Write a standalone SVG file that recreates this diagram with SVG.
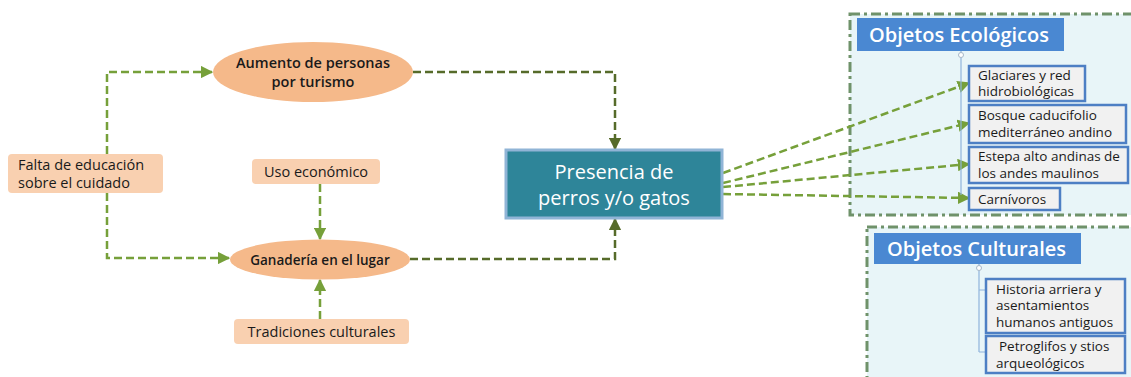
<svg xmlns="http://www.w3.org/2000/svg" width="1131" height="377" viewBox="0 0 1131 377">
<defs>
<style>
.t{font-family:"Open Sans","Liberation Sans",sans-serif;fill:#1a1a1a}
.b{font-weight:600}
.c{text-anchor:middle}
.ell{fill:#f5b98a}
.box{fill:#f9d0b0}
.g{fill:none;stroke:#76a03a;stroke-width:2.5;stroke-dasharray:8 4}
.d{fill:none;stroke:#566b2a;stroke-width:2.5;stroke-dasharray:8 4}
.grp{fill:#e8f5f8;stroke:#6f926a;stroke-width:3;stroke-dasharray:10 4 3 4}
.hdr{fill:#4a88d2}
.item{fill:#f1f1f1;stroke:#4d7fc4;stroke-width:2.5}
.it{font-size:13.5px}
.w{fill:#ffffff}
</style>
<marker id="ag" viewBox="0 0 10 10" refX="9" refY="5" markerWidth="5" markerHeight="5" orient="auto" markerUnits="strokeWidth"><path d="M0,0 L10,5 L0,10 z" fill="#76a03a"/></marker>
<marker id="ad" viewBox="0 0 10 10" refX="9" refY="5" markerWidth="5" markerHeight="5" orient="auto" markerUnits="strokeWidth"><path d="M0,0 L10,5 L0,10 z" fill="#566b2a"/></marker>
</defs>
<rect width="1131" height="377" fill="#ffffff"/>

<g id="grp-eco">
<rect class="grp" x="850" y="14" width="290" height="201"/>
</g>
<g id="grp-cult">
<rect class="grp" x="867" y="227" width="280" height="160"/>
</g>

<g id="connectors">
<path class="g" d="M107,154 V72 H212" marker-end="url(#ag)"/>
<path class="g" d="M107,193 V258 H229" marker-end="url(#ag)"/>
<path class="g" d="M320,184 V239" marker-end="url(#ag)"/>
<path class="g" d="M320,319 V280" marker-end="url(#ag)"/>
<path class="d" d="M413,72 H615 V149" marker-end="url(#ad)"/>
<path class="d" d="M410,259 H615 V219" marker-end="url(#ad)"/>
<path class="g" d="M723,173 L969,83" marker-end="url(#ag)"/>
<path class="g" d="M723,183 L969,123" marker-end="url(#ag)"/>
<path class="g" d="M723,187 L969,164" marker-end="url(#ag)"/>
<path class="g" d="M723,194 L969,198" marker-end="url(#ag)"/>
<path d="M961,51 V195" stroke="#8fb4dc" stroke-width="1.2" fill="none"/>
<circle cx="961" cy="55" r="2.5" fill="#ffffff" stroke="#a8b8c8" stroke-width="1"/>
<path d="M979,264 V352 M979,290 H986 M979,352 H986" stroke="#8fb4dc" stroke-width="1.2" fill="none"/>
<circle cx="979" cy="268" r="2.5" fill="#ffffff" stroke="#a8b8c8" stroke-width="1"/>
</g>

<g id="n-aumento">
<ellipse class="ell" cx="313" cy="72" rx="100" ry="30"/>
<text class="t b c" x="313" y="68" font-size="14.5">Aumento de personas</text>
<text class="t b c" x="313" y="87" font-size="14.5">por turismo</text>
</g>
<g id="n-falta">
<rect class="box" x="8" y="154" width="155" height="39" rx="4"/>
<text class="t" x="18" y="170" font-size="14.5">Falta de educación</text>
<text class="t" x="18" y="188" font-size="14.5">sobre el cuidado</text>
</g>
<g id="n-uso">
<rect class="box" x="252" y="159" width="128" height="25" rx="4"/>
<text class="t c" x="316" y="177" font-size="14.5">Uso económico</text>
</g>
<g id="n-ganaderia">
<ellipse class="ell" cx="320" cy="259.5" rx="90" ry="20"/>
<text class="t b c" x="320" y="264.5" font-size="13.5">Ganadería en el lugar</text>
</g>
<g id="n-tradiciones">
<rect class="box" x="234" y="319" width="175" height="25" rx="4"/>
<text class="t c" x="321.5" y="337" font-size="14.5">Tradiciones culturales</text>
</g>
<g id="n-presencia">
<rect x="506" y="150" width="216" height="68" fill="#2e8599" stroke="#90b4d6" stroke-width="3"/>
<text class="t c w" x="614" y="179" font-size="20">Presencia de</text>
<text class="t c w" x="614" y="205" font-size="20">perros y/o gatos</text>
</g>

<g id="n-eco-hdr">
<rect class="hdr" x="857" y="18" width="207" height="33"/>
<text class="t b w" x="869" y="42" font-size="20">Objetos Ecológicos</text>
</g>
<g id="n-glaciares">
<rect class="item" x="969" y="66" width="116" height="35"/>
<text class="t it" x="978" y="80">Glaciares y red</text>
<text class="t it" x="978" y="96">hidrobiológicas</text>
</g>
<g id="n-bosque">
<rect class="item" x="969" y="105" width="157" height="38"/>
<text class="t it" x="978" y="120">Bosque caducifolio</text>
<text class="t it" x="978" y="137">mediterráneo andino</text>
</g>
<g id="n-estepa">
<rect class="item" x="969" y="147" width="159" height="36"/>
<text class="t it" x="978" y="161">Estepa alto andinas de</text>
<text class="t it" x="978" y="178">los andes maulinos</text>
</g>
<g id="n-carnivoros">
<rect class="item" x="969" y="188" width="91" height="22"/>
<text class="t it" x="978" y="204">Carnívoros</text>
</g>

<g id="n-cult-hdr">
<rect class="hdr" x="874" y="233" width="207" height="31"/>
<text class="t b w" x="887" y="256" font-size="20">Objetos Culturales</text>
</g>
<g id="n-historia">
<rect class="item" x="986" y="279" width="139" height="54"/>
<text class="t it" x="996" y="294">Historia arriera y</text>
<text class="t it" x="996" y="310">asentamientos</text>
<text class="t it" x="996" y="327">humanos antiguos</text>
</g>
<g id="n-petroglifos">
<rect class="item" x="986" y="336" width="139" height="37"/>
<text class="t it" x="999" y="351">Petroglifos y stios</text>
<text class="t it" x="996" y="368">arqueológicos</text>
</g>
</svg>
